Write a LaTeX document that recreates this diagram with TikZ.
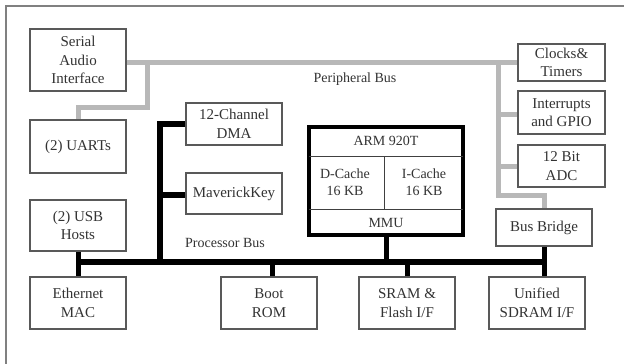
\documentclass[tikz,border=0pt]{standalone}
\usepackage{fontspec}
\setmainfont{Liberation Serif}
\begin{document}
\begin{tikzpicture}[x=1pt,y=-1pt,
  blk/.style={draw=black!65, line width=1.1pt, rectangle, fill=white, align=center,
    text=black!80, font=\fontsize{15}{18.5}\selectfont, inner sep=0pt},
  pbus/.style={draw=black!28, line width=5pt},
  cbus/.style={draw=black, line width=6pt, line join=miter},
  stub/.style={draw=black, line width=5pt},
  lbl/.style={text=black!80, font=\fontsize{14}{17}\selectfont, inner sep=0pt}]
\useasboundingbox (0,0) rectangle (624,364);
\fill[white] (0,0) rectangle (624,364);
\draw[black!50, line width=1.5pt] (6,380) -- (6,6) -- (640,6);

% peripheral blocks
\node[blk, minimum width=96pt, minimum height=62pt] (sai) at (78,60) {Serial\\Audio\\Interface};
\node[blk, minimum width=96pt, minimum height=53pt] (uart) at (78,146.5) {(2) UARTs};
\node[blk, minimum width=96pt, minimum height=51pt] (usb) at (78,225.5) {(2) USB\\Hosts};
\node[blk, minimum width=96pt, minimum height=52pt] (eth) at (78,303) {Ethernet\\MAC};
\node[blk, minimum width=96pt, minimum height=42pt] (dma) at (234,124) {12-Channel\\DMA};
\node[blk, minimum width=96pt, minimum height=41pt] (mk) at (234,193.5) {MaverickKey};
\node[blk, minimum width=96pt, minimum height=52pt] (boot) at (269,303) {Boot\\ROM};
\node[blk, minimum width=96pt, minimum height=52pt] (sram) at (407,303) {SRAM \&\\Flash I/F};
\node[blk, minimum width=96pt, minimum height=52pt] (uni) at (537,303) {Unified\\SDRAM I/F};
\node[blk, minimum width=96pt, minimum height=37pt] (bb) at (544,227.5) {Bus Bridge};
\node[blk, minimum width=87pt, minimum height=37pt] (clk) at (561.5,62.5) {Clocks\&\\Timers};
\node[blk, minimum width=87pt, minimum height=43pt] (irq) at (561.5,112.5) {Interrupts\\and GPIO};
\node[blk, minimum width=87pt, minimum height=42pt] (adc) at (561.5,166) {12 Bit\\ADC};

% ARM core
\node[draw=black, line width=4pt, fill=white, minimum width=154pt, minimum height=108pt, inner sep=0pt] (arm) at (386,181) {};
\draw[black!75, line width=0.9pt] (309,156) -- (463,156) (309,209) -- (463,209) (384,156) -- (384,209);
\node[lbl] (armt) at (386,141) {ARM 920T};
\node[lbl, align=center] (dc) at (345,182.5) {D-Cache\\16 KB};
\node[lbl, align=center] (ic) at (424,182.5) {I-Cache\\16 KB};
\node[lbl] (mmu) at (386,223) {MMU};

% peripheral bus (gray)
\coordinate (pl) at (sai.east |- clk.west);
\coordinate (pj1) at (147,62.5);
\coordinate (pj2) at (498,62.5);
\draw[pbus] (pl) -- (clk.west);
\draw[pbus] (pj1) -- (147,107) -| (uart.north);
\draw[pbus] (pj2) -- (498,195) -| (bb.north);
\draw[pbus] (498,114) -- (irq.west |- 0,114);
\draw[pbus] (498,166) -- (adc.west);

% processor bus (black)
\coordinate (cl) at (usb.south |- 0,262);
\coordinate (cr) at (bb.south |- 0,262);
\draw[cbus] (cl) -- (cr);
\draw[cbus] (dma.west) -- (160,124) -- (160,262);
\draw[cbus] (160,195) -- (mk.west |- 0,195);
\draw[stub] (usb.south) -- (eth.north);
\draw[stub] (boot.north -| 272,0) -- (272,262);
\draw[stub] (arm.south) -- (arm.south |- 0,262);
\draw[stub] (sram.north) -- (sram.north |- 0,262);
\draw[stub] (bb.south) -- (bb.south |- uni.north);

\node[lbl] (plabel) at (355,79) {Peripheral Bus};
\node[lbl] (clabel) at (225,243) {Processor Bus};
\end{tikzpicture}
\end{document}
